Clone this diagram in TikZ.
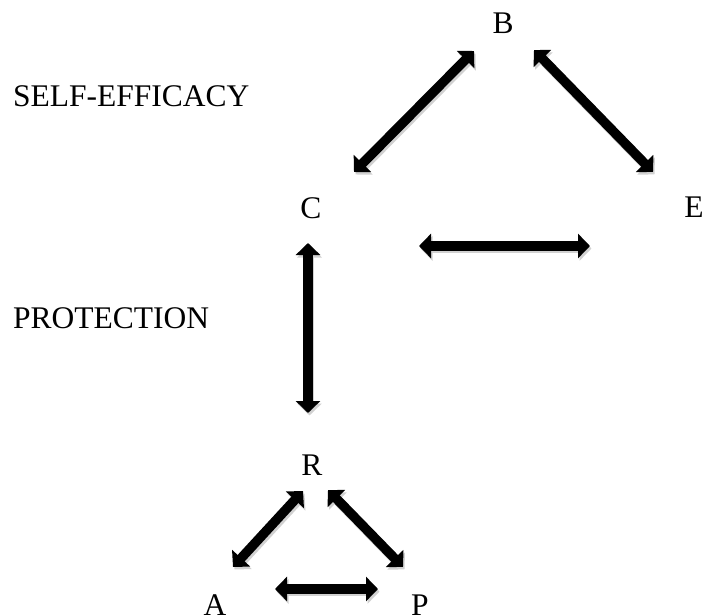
\documentclass[tikz,border=0pt]{standalone}
\usepackage{fontspec}
\setmainfont{Liberation Serif}
\usetikzlibrary{arrows.meta}

\tikzset{
  lbl/.style={font=\fontsize{31.5}{31.5}\selectfont, inner sep=0pt, anchor=base},
  fleche/.style={line width=9.5pt, {Triangle[length=12pt,width=24pt]}-{Triangle[length=12pt,width=24pt]}},
  ombre/.style={fleche, black!18, transform canvas={shift={(1.5pt,-2.5pt)}}}
}

\begin{document}
\begin{tikzpicture}[x=1pt,y=-1pt]
\useasboundingbox (0,0) rectangle (704,615);
%					Titres :
					\node[lbl, anchor=base west] (self) at (13,107) {SELF-EFFICACY};
					\node[lbl, anchor=base west] (prot) at (13,328) {PROTECTION};
%					Sommets :
					\node[lbl] (B) at (503,34) {B};
					\node[lbl] (C) at (311,218) {C};
					\node[lbl] (E) at (694,217) {E};
					\node[lbl] (R) at (312,475) {R};
					\node[lbl] (A) at (215,615) {A};
					\node[lbl] (P) at (420,615) {P};
%					Extremites des fleches :
					\coordinate (bc1) at (474,51);  \coordinate (bc2) at (354,172);
					\coordinate (be1) at (534,50);  \coordinate (be2) at (653,172);
					\coordinate (ce1) at (419,246); \coordinate (ce2) at (590,246);
					\coordinate (cr1) at (308,243); \coordinate (cr2) at (308,413);
					\coordinate (ra1) at (303,491); \coordinate (ra2) at (233,567);
					\coordinate (rp1) at (328,490); \coordinate (rp2) at (403,567);
					\coordinate (ap1) at (275,589); \coordinate (ap2) at (378,589);
%					Ombres :
					\foreach \u/\v in {bc1/bc2,be1/be2,ce1/ce2,cr1/cr2,ra1/ra2,rp1/rp2,ap1/ap2}
						\draw[ombre] (\u) -- (\v);
%					Fleches :
					\foreach \u/\v in {bc1/bc2,be1/be2,ce1/ce2,cr1/cr2,ra1/ra2,rp1/rp2,ap1/ap2}
						\draw[fleche] (\u) -- (\v);
\end{tikzpicture}
\end{document}
